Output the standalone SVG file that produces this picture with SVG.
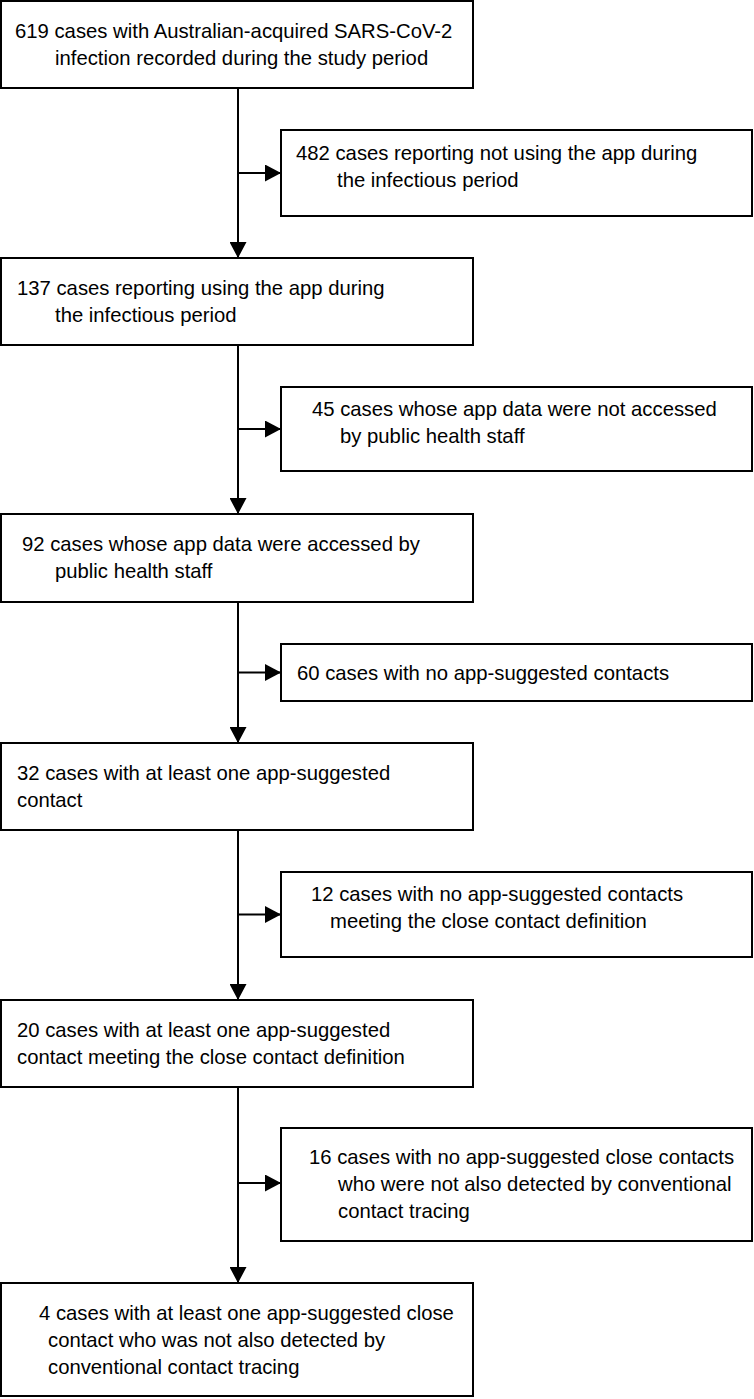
<svg xmlns="http://www.w3.org/2000/svg" width="754" height="1399" viewBox="0 0 754 1399">
<style>
.box{fill:#fff;stroke:#000;stroke-width:2}
.t{font-family:"Liberation Sans",Arial,sans-serif;font-size:20.3px;fill:#000}
.ln{stroke:#000;stroke-width:2;fill:none}
</style>
<defs>
<marker id="ah" markerWidth="16" markerHeight="17" refX="16" refY="8.5" orient="auto" markerUnits="userSpaceOnUse">
<path d="M0,0 L16,8.5 L0,17 Z" fill="#000"/>
</marker>
</defs>
<rect width="754" height="1399" fill="#fff"/>
<g id="connectors">
<line class="ln" x1="238" y1="88" x2="238" y2="258" marker-end="url(#ah)"/>
<line class="ln" x1="238" y1="173" x2="281" y2="173" marker-end="url(#ah)"/>
<line class="ln" x1="238" y1="345" x2="238" y2="514" marker-end="url(#ah)"/>
<line class="ln" x1="238" y1="429" x2="281" y2="429" marker-end="url(#ah)"/>
<line class="ln" x1="238" y1="602" x2="238" y2="743" marker-end="url(#ah)"/>
<line class="ln" x1="238" y1="672.5" x2="281" y2="672.5" marker-end="url(#ah)"/>
<line class="ln" x1="238" y1="830" x2="238" y2="1000" marker-end="url(#ah)"/>
<line class="ln" x1="238" y1="914.5" x2="281" y2="914.5" marker-end="url(#ah)"/>
<line class="ln" x1="238" y1="1087" x2="238" y2="1283" marker-end="url(#ah)"/>
<line class="ln" x1="238" y1="1183" x2="281" y2="1183" marker-end="url(#ah)"/>
</g>
<g id="n619">
<rect class="box" x="1" y="1" width="472" height="87"/>
<text class="t" x="15" y="38">619 cases with Australian-acquired SARS-CoV-2</text>
<text class="t" x="55" y="65">infection recorded during the study period</text>
</g>
<g id="n482">
<rect class="box" x="281" y="130" width="471" height="86"/>
<text class="t" x="296" y="160">482 cases reporting not using the app during</text>
<text class="t" x="337" y="187">the infectious period</text>
</g>
<g id="n137">
<rect class="box" x="1" y="258" width="472" height="87"/>
<text class="t" x="17" y="295">137 cases reporting using the app during</text>
<text class="t" x="55" y="322">the infectious period</text>
</g>
<g id="n45">
<rect class="box" x="281" y="387" width="471" height="84"/>
<text class="t" x="312" y="416">45 cases whose app data were not accessed</text>
<text class="t" x="340" y="443">by public health staff</text>
</g>
<g id="n92">
<rect class="box" x="1" y="514" width="472" height="88"/>
<text class="t" x="22" y="551">92 cases whose app data were accessed by</text>
<text class="t" x="55" y="578">public health staff</text>
</g>
<g id="n60">
<rect class="box" x="281" y="644" width="471" height="57"/>
<text class="t" x="297" y="680">60 cases with no app-suggested contacts</text>
</g>
<g id="n32">
<rect class="box" x="1" y="743" width="472" height="87"/>
<text class="t" x="17" y="780">32 cases with at least one app-suggested</text>
<text class="t" x="17" y="807">contact</text>
</g>
<g id="n12">
<rect class="box" x="281" y="872" width="471" height="85"/>
<text class="t" x="311" y="901">12 cases with no app-suggested contacts</text>
<text class="t" x="330" y="928">meeting the close contact definition</text>
</g>
<g id="n20">
<rect class="box" x="1" y="1000" width="472" height="87"/>
<text class="t" x="17" y="1037">20 cases with at least one app-suggested</text>
<text class="t" x="17" y="1064">contact meeting the close contact definition</text>
</g>
<g id="n16">
<rect class="box" x="281" y="1128" width="471" height="113"/>
<text class="t" x="309" y="1164">16 cases with no app-suggested close contacts</text>
<text class="t" x="338" y="1191">who were not also detected by conventional</text>
<text class="t" x="338" y="1218">contact tracing</text>
</g>
<g id="n4">
<rect class="box" x="1" y="1283" width="472" height="113"/>
<text class="t" x="39" y="1320">4 cases with at least one app-suggested close</text>
<text class="t" x="48" y="1347">contact who was not also detected by</text>
<text class="t" x="48" y="1374">conventional contact tracing</text>
</g>
</svg>
